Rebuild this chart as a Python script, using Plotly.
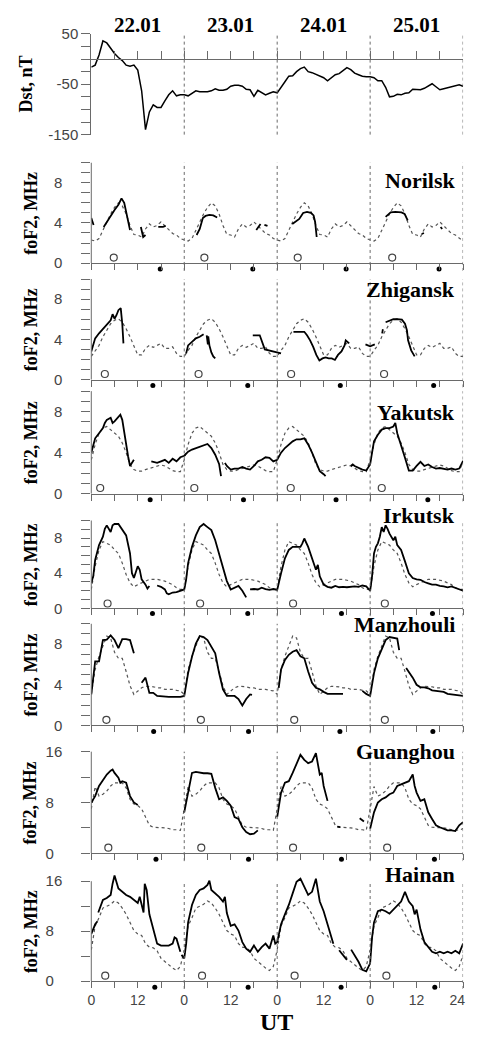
import plotly.graph_objects as go

W, H = 479, 1040

# ---------------------------------------------------------------- data
DAY_LABELS = ["22.01", "23.01", "24.01", "25.01"]

DST_HOURS = list(range(97))
DST_NT = [-16, -12, 8, 36, 32, 21, 11, 3, -3, -12, -14, -12, -22, -63, -140, -105, -91, -96, -96, -83, -71, -63, -73, -71, -71,
          -73, -68, -63, -65, -65, -65, -63, -59, -62, -62, -60, -54, -52, -52, -54, -60, -61, -74, -62, -67, -71, -68, -65, -67,
          -57, -45, -34, -33, -25, -19, -16, -25, -27, -30, -34, -37, -43, -36, -31, -29, -23, -17, -21, -28, -31, -34, -35, -35,
          -37, -43, -43, -56, -75, -74, -70, -71, -68, -67, -60, -61, -61, -58, -54, -49, -55, -61, -59, -57, -55, -54, -51, -54]

# monthly median foF2 (MHz), hourly 0..24 UT, same profile for every day
NORILSK_MEDIAN = [2.3, 2.2, 2.45, 3.3, 4.1, 4.9, 5.55, 6.0, 5.7, 4.9, 3.75, 2.85, 2.8, 2.6, 3.4, 3.9, 3.6, 3.75, 4.1, 3.75, 3.3, 2.95, 2.8, 2.45, 2.2]
ZHIGANSK_MEDIAN = [2.3, 2.9, 3.4, 4.25, 4.9, 5.55, 5.9, 6.05, 5.7, 5.05, 4.25, 3.25, 2.45, 2.45, 3.1, 3.4, 3.2, 3.4, 3.6, 3.1, 3.1, 3.25, 2.6, 2.3, 2.3]
YAKUTSK_MEDIAN = [3.3, 4.8, 5.9, 6.4, 6.55, 6.25, 5.9, 5.6, 4.95, 4.0, 2.85, 2.35, 2.2, 2.2, 2.35, 2.45, 2.6, 2.7, 2.8, 2.7, 2.45, 2.25, 2.15, 2.15, 3.2]
IRKUTSK_MEDIAN = [2.15, 4.8, 6.65, 7.6, 7.4, 7.2, 6.65, 6.25, 5.15, 3.85, 2.9, 2.45, 2.7, 2.9, 3.1, 3.3, 3.3, 3.3, 3.2, 3.1, 2.9, 2.7, 2.35, 2.15, 2.15]
MANZHOULI_MEDIAN = [3.05, 5.5, 6.8, 7.8, 8.8, 8.6, 7.2, 6.6, 6.6, 5.3, 3.9, 3.05, 3.4, 3.7, 3.85, 3.85, 3.8, 3.7, 3.7, 3.55, 3.55, 3.55, 3.45, 3.4, 3.05]
GUANGHOU_MEDIAN = [7.0, 10.5, 9.0, 9.3, 9.8, 10.6, 11.1, 11.1, 11.1, 10.3, 8.5, 7.75, 7.5, 7.0, 5.7, 4.4, 4.1, 4.1, 4.1, 4.0, 3.9, 3.7, 3.7, 3.6, 3.9]
HAINAN_MEDIAN = [5.0, 8.85, 10.15, 11.7, 12.0, 12.3, 12.85, 12.5, 11.7, 10.7, 9.4, 8.1, 7.55, 7.3, 6.0, 5.45, 5.35, 4.85, 3.65, 3.1, 2.6, 2.1, 1.7, 2.35, 4.2]

# observed foF2 (hour from 22.01 00 UT, MHz); None marks a data gap
NORILSK_OBS = [(0, 4.5), (0.6, 3.8), None,
               (3.2, 3.6), (4, 4.1), (5, 4.7), (6, 5.3), (7, 5.8), (7.8, 6.45), (8.5, 6.0), (9, 5.2), (9.5, 4.1), (10, 3.3), None,
               (12.8, 3.6), (13.4, 2.6), (14, 2.8), None, (17.3, 3.6), (18.5, 3.6), (19.2, 3.7), None,
               (27.2, 2.8), (28, 3.4), (28.8, 4.5), (29.5, 4.7), (30.5, 4.8), (31.5, 4.75), (32.5, 4.55), None,
               (42.6, 3.3), (43.7, 3.9), None, (44.7, 3.8), (45.5, 3.7), None,
               (51.9, 3.9), (52.7, 4.1), (53.7, 4.4), (54.7, 5.0), (55.7, 5.1), (56.7, 5.0), (57.4, 4.75), (57.8, 4.1), (58.2, 2.6), None,
               (76.0, 4.6), (77.3, 5.05), (78.5, 5.1), (80.1, 5.05), (80.9, 4.9), (81.7, 4.25), None,
               (85.3, 2.9), (85.9, 3.0), None, (90.2, 3.6), (90.6, 3.4)]
ZHIGANSK_OBS = [(0, 2.8), (0.5, 3.4), (1, 4.1), (2, 4.6), (3, 5.05), (4, 5.55), (5, 5.9), (5.5, 6.5), (6, 6.05), (6.5, 6.4),
                (7, 6.9), (7.6, 7.1), (8, 5.55), (8.3, 3.6), None,
                (24.5, 2.6), (25, 3.4), (26, 3.75), (27, 4.1), (28, 4.25), (29, 4.5), None,
                (29.8, 4.4), (30.1, 3.5), (30.2, 4.3), (30.5, 3.4), (31, 2.7), (31.5, 2.3), (32, 2.1), None,
                (41.7, 4.4), (43.5, 4.4), (44.8, 3.0), (46, 2.9), (47, 2.8), (48, 2.75), (49, 2.6), None,
                (52.2, 4.75), (55, 4.75), (55.7, 4.4), (56.5, 3.9), (57.3, 3.25), (58.1, 2.45), (58.9, 1.9), (59.7, 2.1), (60.5, 2.2),
                (61.3, 2.1), (62.1, 2.1), (62.9, 1.95), (63.7, 2.45), (64.6, 2.8), (65.4, 3.4), (65.7, 3.9), (66.6, 3.6), None,
                (70.8, 3.5), (71.5, 3.4), (72, 3.3), (73.2, 3.5), None, (75.1, 4.6), (75.3, 5.0), None,
                (76, 5.7), (77, 5.85), (78, 6.0), (79, 6.0), (80.2, 5.95), (81, 5.55), (81.5, 4.9), (81.8, 3.9), (82.6, 2.9), (83.5, 2.3)]
YAKUTSK_OBS = [(0, 4.0), (0.5, 4.6), (1, 5.4), (2, 5.9), (3, 6.4), (3.5, 6.9), (4, 7.2), (5, 7.4), (5.5, 6.9), (6, 7.05), (7, 7.55),
               (7.5, 7.7), (8, 7.2), (8.5, 5.9), (9, 4.6), (9.5, 3.65), (10, 2.7), (10.5, 3.0), (11, 3.3), None,
               (15.5, 3.15), (16, 3.1), (17, 3.0), (18, 3.15), (19, 3.3), (20, 3.0), (21, 3.4), (22, 3.15), (23, 3.55), (24, 3.7),
               (25, 4.1), (26, 4.3), (27, 4.45), (28, 4.55), (29, 4.7), (30, 4.85), (31, 4.45), (32, 3.8), (33, 2.9), (33.5, 1.7), None,
               (34.5, 3.0), (35, 2.7), (36, 2.35), (37, 2.45), (38, 2.45), (39, 2.6), (40, 2.45), (41, 2.35), (42, 2.7), (43, 3.15),
               (44, 3.3), (45, 3.55), (46, 3.5), (47, 3.15), (48, 3.3),
               (49, 4.0), (50, 4.45), (51, 4.8), (52, 5.1), (53, 5.3), (54, 5.3), (55, 5.4), (56, 4.8), (57, 4.0), (58, 3.0), (59, 2.2),
               (60, 1.9), (60.5, 1.7), None,
               (67, 2.7), (67.5, 2.85), (68, 2.7), (69, 2.5), (70, 2.35), (71, 2.25), (72, 2.85),
               (72.5, 4.0), (73, 5.1), (74, 5.75), (75, 6.25), (76, 6.4), (77, 6.4), (78, 6.55), (78.5, 6.9), (79, 5.9), (80, 4.8),
               (81, 3.5), (82, 2.25), (83, 2.25), (84, 2.7), (85, 3.1), (86, 2.7), (87, 2.85), (88, 2.6), (89, 2.45), (90, 2.5),
               (91, 2.45), (92, 2.35), (93, 2.45), (94, 2.35), (95, 2.45), (96, 3.2)]
IRKUTSK_OBS = [(0, 2.9), (0.5, 3.65), (1, 5.5), (2, 7.2), (3, 8.15), (3.5, 9.05), (4, 9.45), (4.5, 9.05), (5, 8.7), (5.5, 9.45),
               (6, 9.6), (7, 9.6), (8, 8.9), (9, 8.3), (10, 6.25), (10.5, 4.0), (11, 3.45), (11.5, 4.2), (12, 4.8), (12.5, 4.4),
               (13, 3.3), (14, 2.7), (14.5, 2.25), (15, 2.55), None,
               (17, 2.6), (18, 2.45), (19, 2.15), (19.5, 1.7), (20, 1.6), (21, 1.8), (22, 1.85), (23, 2.0), (24, 2.15),
               (24.5, 3.3), (25, 5.15), (26, 7.0), (27, 8.3), (28, 9.25), (29, 9.6), (30, 9.25), (31, 8.9), (32, 7.75), (33, 6.25),
               (34, 4.6), (35, 3.1), (36, 2.15), (37, 2.35), (38, 2.55), (39, 2.0), (39.5, 1.6), (40, 1.25), None,
               (41, 2.15), (42, 2.2), (43, 2.15), (44, 2.35), (45, 2.2), (46, 2.1), (47, 2.2), (48, 2.1),
               (49, 4.0), (50, 5.7), (51, 6.65), (52, 7.0), (53, 7.0), (54, 7.0), (54.5, 7.4), (55, 7.95), (56, 7.0), (57, 5.7),
               (58, 4.4), (58.5, 4.95), (59, 3.65), (60, 2.7), (61, 2.45), (62, 2.35), (63, 2.55), (64, 2.4), (65, 2.45), (66, 2.4),
               (67, 2.45), (68, 2.5), (69, 2.45), (70, 2.6), (71, 2.5), (72, 2.0),
               (72.5, 3.65), (73, 6.25), (73.5, 7.0), (74, 7.4), (74.5, 8.15), (75, 9.25), (75.5, 8.7), (76, 9.45), (76.5, 9.05),
               (77, 8.5), (78, 7.75), (78.5, 8.15), (79, 7.2), (80, 6.65), (81, 5.35), (82, 4.0), (83, 3.45), (84, 3.3), (85, 3.25),
               (86, 3.0), (87, 2.85), (88, 2.7), (89, 2.7), (90, 2.55), (91, 2.5), (92, 2.4), (93, 2.5), (94, 2.35), (95, 2.15), (96, 2.0)]
MANZHOULI_OBS = [(0, 3.05), (1, 6.3), (2, 6.3), (3, 8.4), (4, 8.45), (5, 8.85), (6, 8.4), (7, 7.6), (8, 8.5), (9, 8.5), (10, 8.4),
                 (11, 7.1), None,
                 (13, 4.2), (14, 4.7), (15, 3.2), (16, 3.2), (17, 2.9), (18, 2.85), (19, 2.8), (20, 2.8), (21, 2.8), (22, 2.8),
                 (23, 2.8), (24, 2.9),
                 (25, 5.15), (26, 6.75), (27, 8.05), (28, 8.8), (29, 8.7), (30, 8.4), (31, 7.75), (32, 7.1), (33, 5.15), (34, 3.55),
                 (35, 2.9), (36, 2.9), (37, 2.9), (38, 2.6), (39, 1.95), (40, 2.6), (41, 3.05), (41.5, 3.0), None,
                 (48.4, 3.7), (49, 5.5), (50, 6.45), (51, 6.95), (52, 7.25), (53, 7.4), (54, 6.8), (55, 6.6), (56, 5.3), (57, 4.2),
                 (58, 3.7), (59, 3.55), (60, 3.3), (61, 3.1), (62, 3.1), (63, 3.1), (64, 3.1), (65, 3.1), None,
                 (70, 3.4), (71, 3.1), (72, 2.9),
                 (73, 5.15), (74, 6.6), (75, 7.6), (76, 8.4), (77, 8.7), (78, 8.6), (79, 8.55), (79.5, 7.4), None,
                 (81.3, 5.65), (82, 5.3), (83, 4.7), (84, 4.0), (85, 3.75), (86, 3.75), (87, 3.65), (88, 3.45), (89, 3.4),
                 (90, 3.35), (91, 3.3), (92, 3.1), (93, 3.05), (94, 3.0), (95, 2.95), (96, 2.9)]
GUANGHOU_OBS = [(0, 8.0), (1, 9.0), (2, 10.6), (3, 11.6), (4, 12.4), (5, 13.0), (5.5, 13.2), (6, 12.65), (7, 11.9), (7.5, 11.1),
                (8, 11.35), (9, 11.1), (10, 9.0), (11, 8.0), (12, 7.6), None,
                (24, 6.45), (25, 9.8), (26, 12.65), (27, 12.8), (28, 12.65), (29, 12.6), (30, 12.6), (31, 12.5), (32, 10.3),
                (33, 8.5), (34, 8.8), (35, 8.25), (36, 7.5), (37, 5.7), (38, 5.4), (39, 4.1), (40, 3.35), (41, 3.0), (42, 3.1),
                (43, 3.6), None,
                (48, 5.7), (49, 9.55), (50, 11.1), (51, 11.35), (52, 12.65), (53, 14.2), (54, 15.5), (55, 14.7), (56, 14.2),
                (57, 14.45), (58, 15.75), (59, 12.4), (59.5, 12.65), (60, 10.6), (61, 8.25), None,
                (63.5, 4.2), (64.3, 4.1), None, (69.3, 5.5), (70.4, 5.0), None,
                (72, 3.85), (73, 6.45), (74, 8.0), (75, 8.5), (76, 8.8), (77, 9.3), (78, 9.55), (79, 10.6), (80, 10.85), (81, 11.1),
                (82, 11.35), (83, 12.4), (83.5, 10.6), (84, 9.55), (85, 8.25), (86, 8.5), (87, 6.45), (88, 5.4), (89, 4.4),
                (90, 4.1), (91, 3.85), (92, 3.6), (93, 3.6), (94, 3.5), (95, 4.4), (96, 4.9)]
HAINAN_OBS = [(0, 7.55), (1, 9.1), (1.6, 9.6), None,
              (1.8, 11.0), (3, 13.0), (4, 13.3), (5, 13.8), (5.5, 15.6), (6, 16.9), (7, 14.85), (8, 14.3), (9, 13.8), (10, 13.5),
              (11, 13.0), (12, 12.5), (12.5, 13.5), (13, 12.2), (13.5, 11.0), (13.8, 15.6), (14.3, 14.6), (15, 10.7), (16, 8.1),
              (17, 6.0), (18, 5.7), (19, 5.7), (20, 5.7), (21, 6.0), (21.5, 7.0), (22, 6.8), (22.5, 5.7), (23, 4.7), None,
              (23.3, 4.2), (24, 3.65),
              (24.5, 6.0), (25, 9.4), (26, 12.2), (27, 13.8), (28, 14.6), (29, 14.85), (30, 15.4), (30.5, 16.1), (31, 14.6),
              (32, 14.05), (33, 13.5), (34, 12.75), (34.5, 13.5), (35, 10.9), (36, 8.85), (37, 9.1), (38, 8.1), (39, 6.25),
              (40, 5.2), (41, 4.7), (42, 5.7), (43, 4.7), (44, 5.45), (45, 6.0), (46, 5.2), (47, 7.3), (47.5, 6.0), (48, 6.25),
              (49, 9.1), (50, 10.7), (51, 12.2), (52, 14.05), (53, 15.9), (54, 16.4), (55, 15.1), (56, 13.8), (57, 14.3),
              (58, 16.4), (59, 12.75), (60, 11.2), (61, 9.1), (62, 7.0), (62.5, 6.0), None,
              (64, 4.95), (65, 4.2), (66, 3.4), None,
              (67.1, 5.05), (68, 4.2), (69, 3.1), (70, 1.8), (71, 1.55), (72, 2.85),
              (72.5, 7.0), (73, 9.4), (74, 11.2), (75, 11.45), (76, 11.2), (77, 10.8), (78, 11.45), (79, 12.0), (80, 12.75),
              (81, 14.3), (82, 12.75), (83, 12.0), (83.5, 10.7), (84, 11.45), (85, 8.3), (86, 6.25), (87, 5.45), (88, 4.7),
              (89, 4.45), (90, 4.7), (91, 4.45), (92, 4.7), (93, 4.45), (94, 4.85), (95, 4.45), (96, 6.0)]

# sunrise (open circles) and sunset (dots) at 300 km, hour of day UT
NORILSK_SUNRISE, NORILSK_SUNSET = [5.8, 5.2, 5.3, 5.7], [17.8, 17.7, 17.8, 17.8]
ZHIGANSK_SUNRISE, ZHIGANSK_SUNSET = [3.5, 3.7, 3.6, 3.6], [15.9, 16.4, 16.3, 16.4]
YAKUTSK_SUNRISE, YAKUTSK_SUNSET = [2.3, 2.6, 3.5, 3.0], [15.2, 15.3, 15.2, 14.9]
IRKUTSK_SUNRISE, IRKUTSK_SUNSET = [4.2, 4.1, 4.1, 3.8], [15.8, 16.4, 16.6, 16.1]
MANZHOULI_SUNRISE, MANZHOULI_SUNSET = [3.9, 4.3, 4.4, 3.8], [16.1, 16.6, 16.2, 16.2]
GUANGHOU_SUNRISE, GUANGHOU_SUNSET = [4.4, 4.4, 4.1, 4.4], [16.7, 16.6, 16.6, 16.6]
HAINAN_SUNRISE, HAINAN_SUNSET = [3.6, 4.6, 4.5, 4.2], [16.4, 16.5, 16.5, 16.7]

STATIONS = [
    ("Norilsk", NORILSK_OBS, NORILSK_MEDIAN, NORILSK_SUNRISE, NORILSK_SUNSET, 10),
    ("Zhigansk", ZHIGANSK_OBS, ZHIGANSK_MEDIAN, ZHIGANSK_SUNRISE, ZHIGANSK_SUNSET, 10),
    ("Yakutsk", YAKUTSK_OBS, YAKUTSK_MEDIAN, YAKUTSK_SUNRISE, YAKUTSK_SUNSET, 10),
    ("Irkutsk", IRKUTSK_OBS, IRKUTSK_MEDIAN, IRKUTSK_SUNRISE, IRKUTSK_SUNSET, 10),
    ("Manzhouli", MANZHOULI_OBS, MANZHOULI_MEDIAN, MANZHOULI_SUNRISE, MANZHOULI_SUNSET, 10),
    ("Guanghou", GUANGHOU_OBS, GUANGHOU_MEDIAN, GUANGHOU_SUNRISE, GUANGHOU_SUNSET, 16),
    ("Hainan", HAINAN_OBS, HAINAN_MEDIAN, HAINAN_SUNRISE, HAINAN_SUNSET, 16),
]

# ---------------------------------------------------------------- layout geometry (pixels)
X_LEFT_PX, X_RIGHT_PX = 90.7, 477.0
PANEL_PX = [(25.3, 127.7), (156.3, 258.3), (274.5, 376.7), (388.5, 492.7),
            (520.0, 609.3), (625.0, 728.3), (755.0, 858.3), (886.7, 988.3)]
NAME_Y_PX = [174, 285, 410, 515, 626, 755, 880]
EXT_LO_PX, EXT_HI_PX = 14, 10   # plotting room below 0 (sunset dots) and above the top tick
DAYLINE_DROP_PX = 8             # day separators run a little below the zero line

AX = "#6a6a6a"
SANS = "Liberation Sans, Arial, sans-serif"
SERIF = "Liberation Serif, Times New Roman, serif"
N_DAYS = len(DAY_LABELS)
SPAN = 24 * N_DAYS
N_ST = len(STATIONS)


def px_y(p):
    return 1 - p / H


def unpack(pairs):
    xs, ys = [], []
    for p in pairs:
        if p is None:
            xs.append(None)
            ys.append(None)
        else:
            xs.append(p[0])
            ys.append(p[1])
    return xs, ys


def median_series(profile):
    xs, ys = [], []
    for d in range(N_DAYS):
        for h in range(24):
            xs.append(24 * d + h)
            ys.append(profile[h])
    xs.append(SPAN)
    ys.append(profile[24])
    return xs, ys


fig = go.Figure()
layout = dict(width=W, height=H, margin=dict(l=0, r=0, t=0, b=0),
              paper_bgcolor="white", plot_bgcolor="rgba(0,0,0,0)", showlegend=False,
              shapes=[], annotations=[])

x_dom = [X_LEFT_PX / W, X_RIGHT_PX / W]
tick6 = list(range(0, SPAN + 1, 6))
tick_font = dict(family=SANS, size=15, color="#444")

# ---------------- Dst panel
top, bot = PANEL_PX[0]
dom = [px_y(bot), px_y(top)]
fig.add_trace(go.Scatter(x=DST_HOURS, y=DST_NT, mode="lines", line=dict(color="black", width=1.5),
                         xaxis="x", yaxis="y", hoverinfo="skip"))
zero_pos = dom[0] + (0 - (-150)) / 200 * (dom[1] - dom[0])
layout["xaxis"] = dict(domain=x_dom, range=[0, SPAN], anchor="free", position=zero_pos,
                       tickvals=tick6, ticks="inside", ticklen=8, tickcolor=AX, showticklabels=False,
                       showline=True, linecolor=AX, linewidth=1, showgrid=False, zeroline=False)
dst_ticks = list(range(-150, 51, 25))
layout["yaxis"] = dict(domain=dom, range=[-150, 50], anchor="x", tickvals=dst_ticks,
                       ticktext=[str(v) if v in (-150, -50, 50) else "" for v in dst_ticks],
                       ticks="outside", ticklen=9, tickcolor=AX, showline=True, linecolor=AX,
                       showgrid=False, zeroline=False, tickfont=tick_font, ticklabelstandoff=0)
for d in range(1, N_DAYS + 1):
    layout["shapes"].append(dict(type="line", xref="x", yref="y domain", x0=24 * d, x1=24 * d, y0=0, y1=1,
                                 line=dict(color=AX, width=1, dash="dot")))
for d, lab in enumerate(DAY_LABELS):
    layout["annotations"].append(dict(text=f"<b>{lab}</b>", x=24 * d + 12, xref="x", y=px_y(16.5), yref="paper",
                                      showarrow=False, xanchor="center", yanchor="middle",
                                      font=dict(family=SERIF, size=21, color="black")))
layout["annotations"].append(dict(text="<b>Dst, nT</b>", x=23 / W, xref="paper", y=px_y((top + bot) / 2), yref="paper",
                                  textangle=-90, showarrow=False, xanchor="center", yanchor="middle",
                                  font=dict(family=SERIF, size=18, color="black")))

# ---------------- foF2 panels
for k, (name, obs, med, rise, sset, ytop) in enumerate(STATIONS):
    i = k + 2
    xa, ya = f"x{i}", f"y{i}"
    top, bot = PANEL_PX[i - 1]
    last = k == N_ST - 1
    ppu = (bot - top) / ytop                      # pixels per MHz
    ext_top, ext_bot = top - EXT_HI_PX, bot + EXT_LO_PX
    ext_h = ext_bot - ext_top
    f0 = EXT_LO_PX / ext_h                        # domain fraction of the zero line
    f1 = 1 - EXT_HI_PX / ext_h                    # domain fraction of the top tick

    mx, my = median_series(med)
    fig.add_trace(go.Scatter(x=mx, y=my, mode="lines", line=dict(color="#555", width=1.2, dash="dot"),
                             xaxis=xa, yaxis=ya, hoverinfo="skip"))
    ox, oy = unpack(obs)
    fig.add_trace(go.Scatter(x=ox, y=oy, mode="lines", line=dict(color="black", width=1.8),
                             connectgaps=False, xaxis=xa, yaxis=ya, hoverinfo="skip"))
    fig.add_trace(go.Scatter(x=[24 * d + h for d, h in enumerate(rise)], y=[0.055 * ytop] * len(rise),
                             mode="markers", marker=dict(symbol="circle-open", size=7, color="#444", line=dict(width=1.2)),
                             xaxis=xa, yaxis=ya, hoverinfo="skip"))
    fig.add_trace(go.Scatter(x=[24 * d + h for d, h in enumerate(sset)], y=[-0.06 * ytop] * len(sset),
                             mode="markers", marker=dict(symbol="circle", size=5, color="black"),
                             xaxis=xa, yaxis=ya, hoverinfo="skip"))

    xaxis = dict(domain=x_dom, range=[0, SPAN], anchor="free", position=px_y(bot), tickvals=tick6,
                 ticks="outside", ticklen=6, tickcolor=AX, showline=True, linecolor=AX, linewidth=1,
                 showgrid=False, zeroline=False, showticklabels=last)
    if last:
        xaxis["ticktext"] = [("24\u2007\u2008" if t == SPAN else str(t % 24)) if t % 12 == 0 else "" for t in tick6]
        xaxis["tickfont"] = dict(family=SANS, size=14, color="#444")
        xaxis["ticklabelstandoff"] = 0
        xaxis["ticklabeloverflow"] = "allow"
    layout[f"xaxis{i}"] = xaxis

    if ytop == 10:
        yt = list(range(0, 11))
        ytxt = [str(v) if v in (0, 4, 8) else "" for v in yt]
    else:
        yt = list(range(0, 17, 4))
        ytxt = [("16" if v == 16 else f"{v}\u2007") if v in (0, 8, 16) else "" for v in yt]
    layout[f"yaxis{i}"] = dict(domain=[px_y(ext_bot), px_y(ext_top)],
                               range=[-EXT_LO_PX / ppu, ytop + EXT_HI_PX / ppu], anchor=xa,
                               tickvals=yt, ticktext=ytxt, ticks="outside", ticklen=9, tickcolor=AX,
                               showline=False, showgrid=False, zeroline=False, tickfont=tick_font,
                               ticklabelstandoff=16)
    # vertical frame line from 0 up to the top tick
    layout["shapes"].append(dict(type="line", xref=f"{xa} domain", yref=f"{ya} domain", x0=0, x1=0, y0=f0, y1=f1,
                                 line=dict(color=AX, width=1)))
    for d in range(1, N_DAYS + 1):
        layout["shapes"].append(dict(type="line", xref=xa, yref=f"{ya} domain", x0=24 * d, x1=24 * d,
                                     y0=(EXT_LO_PX - DAYLINE_DROP_PX) / ext_h, y1=f1,
                                     line=dict(color=AX, width=1, dash="dot")))
    layout["annotations"].append(dict(text=f"<b>{name}</b>", x=471 / W, xref="paper", y=px_y(NAME_Y_PX[k]),
                                      yref="paper", showarrow=False, xanchor="right", yanchor="middle",
                                      font=dict(family=SERIF, size=22, color="black")))
    layout["annotations"].append(dict(text="<b>foF2, MHz</b>", x=28 / W, xref="paper", y=px_y((top + bot) / 2),
                                      yref="paper", textangle=-90, showarrow=False, xanchor="center",
                                      yanchor="middle", font=dict(family=SERIF, size=18, color="black")))

layout["annotations"].append(dict(text="<b>UT</b>", x=283 / W, xref="paper", y=px_y(1044), yref="paper",
                                  showarrow=False, xanchor="center", yanchor="bottom", borderpad=0,
                                  font=dict(family=SERIF, size=24, color="black")))

fig.update_layout(**layout)
fig.write_html("out.html", config={"displayModeBar": False})
